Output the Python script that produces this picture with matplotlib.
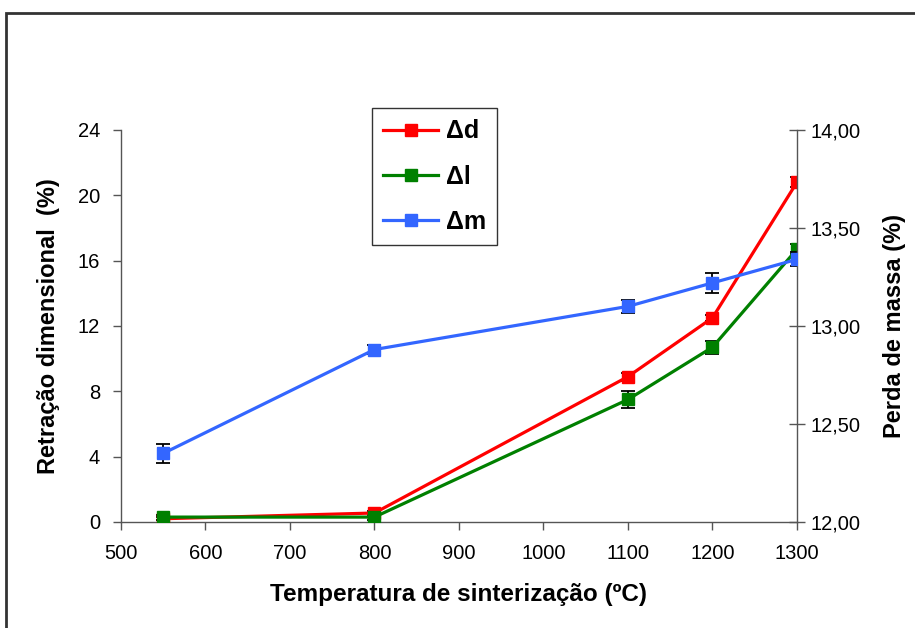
import matplotlib.pyplot as plt
from matplotlib.patches import Rectangle
from matplotlib.ticker import FuncFormatter

plt.rcParams['font.family'] = ['Liberation Sans', 'DejaVu Sans']

temps = [550, 800, 1100, 1200, 1300]
delta_d = [0.2, 0.55, 8.9, 12.5, 20.8]
delta_d_err = [0.1, 0.15, 0.25, 0.2, 0.3]
delta_l = [0.3, 0.3, 7.5, 10.7, 16.7]
delta_l_err = [0.15, 0.2, 0.55, 0.4, 0.3]
delta_m = [12.35, 12.88, 13.10, 13.22, 13.34]
delta_m_err = [0.05, 0.025, 0.035, 0.05, 0.035]

red = '#FF0000'
green = '#008000'
blue = '#3366FF'

fig = plt.figure(figsize=(9.15, 6.28), dpi=100)
ax = fig.add_axes([0.1322, 0.1688, 0.7388, 0.6242])
ax2 = ax.twinx()

# error bars below the markers
ax.errorbar(temps, delta_d, yerr=delta_d_err, fmt='none', ecolor='black',
            elinewidth=1.3, capsize=5, capthick=1.3, zorder=2)
ax.errorbar(temps, delta_l, yerr=delta_l_err, fmt='none', ecolor='black',
            elinewidth=1.3, capsize=5, capthick=1.3, zorder=2)
ax2.errorbar(temps, delta_m, yerr=delta_m_err, fmt='none', ecolor='black',
             elinewidth=1.3, capsize=5, capthick=1.3, zorder=2)

l1, = ax.plot(temps, delta_d, color=red, marker='s', markersize=8.5,
              linewidth=2.3, label='Δd', zorder=3)
l2, = ax.plot(temps, delta_l, color=green, marker='s', markersize=8.5,
              linewidth=2.3, label='Δl', zorder=3)
l3, = ax2.plot(temps, delta_m, color=blue, marker='s', markersize=8.5,
               linewidth=2.3, label='Δm', zorder=3)

ax.set_xlim(500, 1300)
ax.set_ylim(0, 24)
ax2.set_ylim(12, 14)
ax.set_xticks(range(500, 1301, 100))
ax.set_yticks(range(0, 25, 4))
ax2.set_yticks([12.0, 12.5, 13.0, 13.5, 14.0])
ax2.yaxis.set_major_formatter(FuncFormatter(lambda v, p: f'{v:.2f}'.replace('.', ',')))

for a in (ax, ax2):
    a.spines['top'].set_visible(False)
    for s in a.spines.values():
        s.set_color('#555555')
        s.set_linewidth(1.0)
ax.spines['right'].set_visible(False)
ax2.spines['left'].set_visible(False)
ax2.spines['bottom'].set_visible(False)

ax.tick_params(axis='x', direction='out', length=6, width=1,
               color='#555555', labelsize=14.5, pad=10)
ax.tick_params(axis='y', direction='out', length=6, width=1,
               color='#555555', labelsize=14.5, pad=9)
ax2.tick_params(axis='y', direction='inout', length=12, width=1,
                color='#555555', labelsize=14.5, pad=4)

ax.set_xlabel('Temperatura de sinterização (ºC)', fontsize=17.5,
              fontweight='bold', labelpad=14)
ax.set_ylabel('Retração dimensional  (%)', fontsize=17,
              fontweight='bold', labelpad=13)
ax2.set_ylabel('Perda de massa (%)', fontsize=17, fontweight='bold',
               labelpad=16)

leg = fig.legend(handles=[l1, l2, l3], loc='upper left',
                 bbox_to_anchor=(372 / 915, 1 - 108 / 628),
                 bbox_transform=fig.transFigure,
                 prop={'size': 18, 'weight': 'bold'},
                 frameon=True, fancybox=False, handlelength=2.2,
                 labelspacing=0.85, borderpad=0.45, handletextpad=0.3,
                 borderaxespad=0)
leg.get_frame().set_edgecolor('black')
leg.get_frame().set_linewidth(1.0)

# outer chart-area border
fig.patches.append(Rectangle((6 / 915, -0.05), 1.2, 1 - 13 / 628 + 0.05,
                             transform=fig.transFigure, fill=False,
                             edgecolor='#333333', linewidth=2))

fig.savefig('out.png', dpi=100)
